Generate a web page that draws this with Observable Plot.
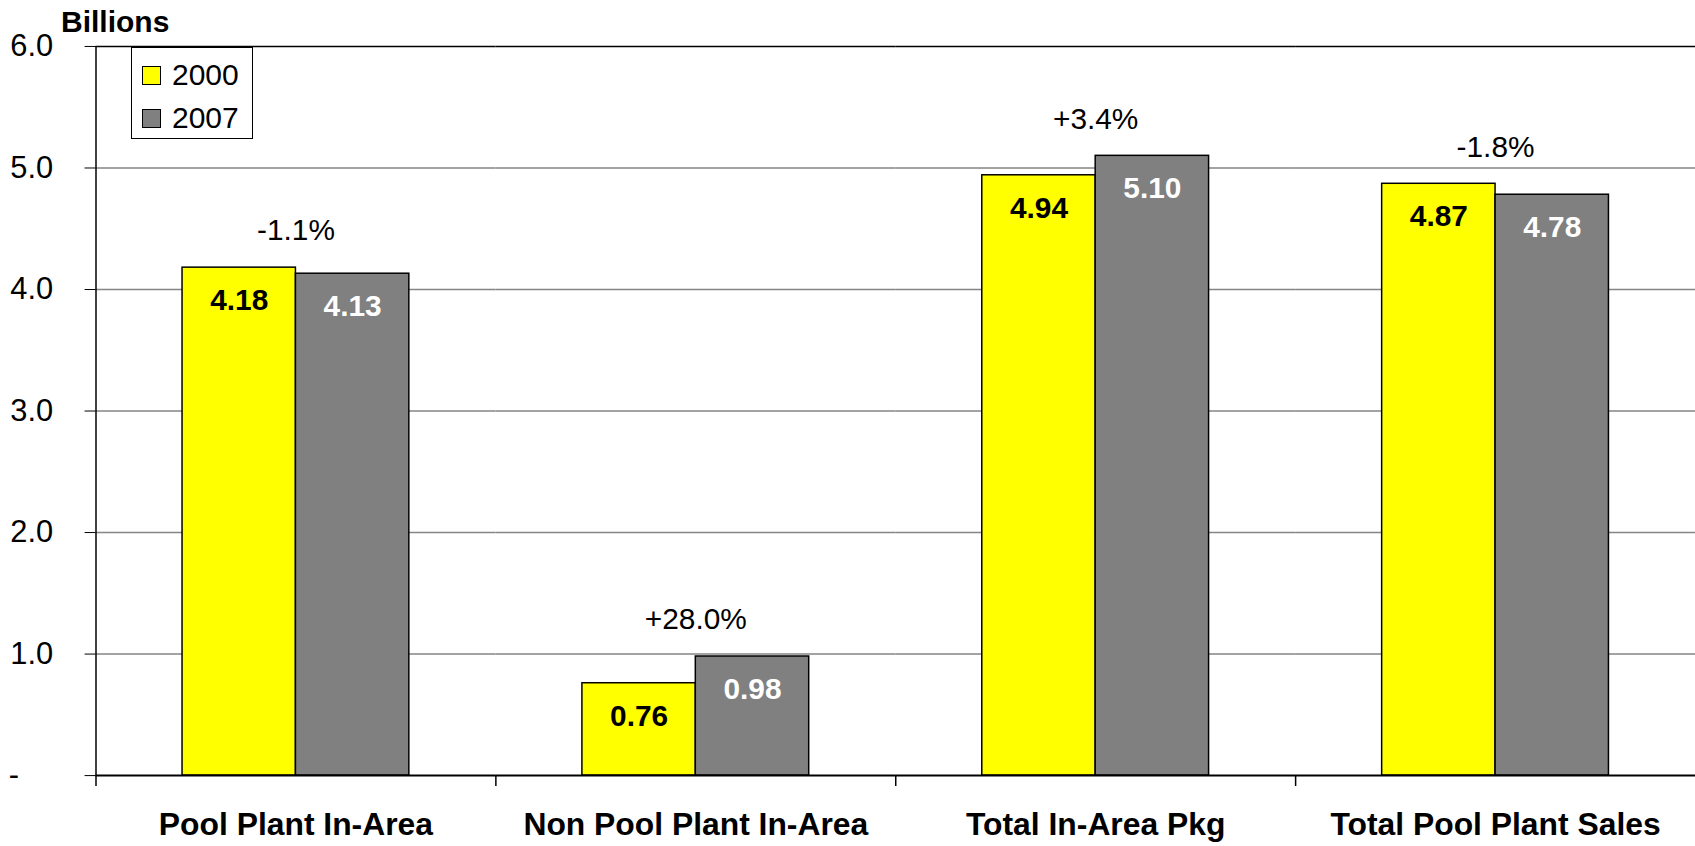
<!DOCTYPE html>
<html>
<head>
<meta charset="utf-8">
<script src="https://cdn.jsdelivr.net/npm/d3@7"></script>
<script src="https://cdn.jsdelivr.net/npm/@observablehq/plot@0.6"></script>
<style>
  body { margin: 0; background: #fff; font-family: "Liberation Sans", Arial, sans-serif; }
  #wrap { position: relative; width: 1695px; height: 846px; overflow: hidden; background: #fff; }
  #head { position: relative; height: 40px; }
  #unit { position: absolute; left: 61px; top: 7px; font-weight: bold; font-size: 30px; line-height: 1; color: #000; }
  #legend { position: absolute; left: 131px; top: 47px; width: 122px; height: 92px; border: 1.5px solid #000; box-sizing: border-box; background: #fff; }
  .lg-item { position: absolute; left: 10px; height: 34px; display: flex; align-items: center; font-size: 30px; color: #000; }
  .lg-sw { width: 19px; height: 19px; border: 1.5px solid #000; box-sizing: border-box; margin-right: 11px; }
</style>
</head>
<body>
<div id="wrap">
  <div id="head"><span id="unit">Billions</span></div>
  <div id="chart"></div>
  <div id="legend"></div>
</div>
<script>
// ---- data ----
const categories = ["Pool Plant In-Area", "Non Pool Plant In-Area", "Total In-Area Pkg", "Total Pool Plant Sales"];
const years = ["2000", "2007"];
const values2000 = [4.18, 0.76, 4.94, 4.87];
const values2007 = [4.13, 0.98, 5.10, 4.78];
const changeLabels = ["-1.1%", "+28.0%", "+3.4%", "-1.8%"];
const yTicks = [0, 1, 2, 3, 4, 5, 6];
const seriesColors = ["#FFFF00", "#808080"];
const labelColors = ["#000000", "#FFFFFF"];

// ---- tables built from the arrays ----
const rows = [];
categories.forEach((c, i) => {
  rows.push({cat: c, year: years[0], value: values2000[i]});
  rows.push({cat: c, year: years[1], value: values2007[i]});
});
const groups = categories.map((c, i) => ({cat: c, top: Math.max(values2000[i], values2007[i]), label: changeLabels[i]}));

const W = 1704, H = 806, ML = 96, MR = 0, MT = 6, MB = 67;
const facetW = (W - ML - MR) / categories.length;

const chart = Plot.plot({
  width: W,
  height: H,
  marginTop: MT,
  marginBottom: MB,
  marginLeft: ML,
  marginRight: MR,
  style: {fontFamily: "'Liberation Sans', Arial, sans-serif", fontSize: "31px", color: "#000", background: "#fff", overflow: "visible"},
  fx: {domain: categories, padding: 0, label: null},
  x: {domain: years, paddingInner: 0, paddingOuter: 0.748, axis: null},
  y: {domain: [0, 6], label: null},
  color: {domain: years, range: seriesColors},
  marks: [
    Plot.ruleY(yTicks.filter(d => d > 0 && d < 6), {stroke: "#858585", strokeWidth: 1.5}),
    Plot.ruleY([6], {stroke: "#000", strokeWidth: 1.5}),
    Plot.barY(rows, {fx: "cat", x: "year", y: "value", fill: "year", stroke: "#000", strokeWidth: 1.5}),
    Plot.ruleY([0], {stroke: "#000", strokeWidth: 2}),
    Plot.ruleX([categories[0]], {fx: d => d, x: null, y1: 0, y2: 6, dx: -facetW / 2, stroke: "#000", strokeWidth: 1.5}),
    Plot.ruleX(categories, {fx: d => d, x: null, y1: 0, y2: 0, insetBottom: -11, dx: -facetW / 2, stroke: "#000", strokeWidth: 1.5}),
    Plot.text(rows.filter(d => d.year === years[0]), {fx: "cat", x: "year", y: "value", text: d => d.value.toFixed(2), dy: 33, fill: labelColors[0], fontWeight: "bold", fontSize: 30}),
    Plot.text(rows.filter(d => d.year === years[1]), {fx: "cat", x: "year", y: "value", text: d => d.value.toFixed(2), dy: 33, fill: labelColors[1], fontWeight: "bold", fontSize: 30}),
    Plot.text(groups, {fx: "cat", y: "top", text: "label", dy: -37, fill: "#000", stroke: "#fff", strokeWidth: 10, paintOrder: "stroke", fontSize: 30}),
    Plot.axisY({ticks: yTicks, tickSize: 11, tickPadding: 32, fontSize: 31, label: null, facetAnchor: "left",
      tickFormat: d => d === 0 ? "-\u2007\u2007" : d.toFixed(1)}),
    Plot.axisFx({anchor: "bottom", tickSize: 0, tickPadding: 37, fontSize: 32, fontWeight: "bold", label: null})
  ]
});
document.getElementById("chart").appendChild(chart);

// ---- legend ----
const legend = document.getElementById("legend");
years.forEach((y, i) => {
  const item = document.createElement("div");
  item.className = "lg-item";
  item.style.top = (10 + i * 43) + "px";
  const sw = document.createElement("span");
  sw.className = "lg-sw";
  sw.style.background = seriesColors[i];
  const tx = document.createElement("span");
  tx.textContent = y;
  item.appendChild(sw);
  item.appendChild(tx);
  legend.appendChild(item);
});
</script>
</body>
</html>
